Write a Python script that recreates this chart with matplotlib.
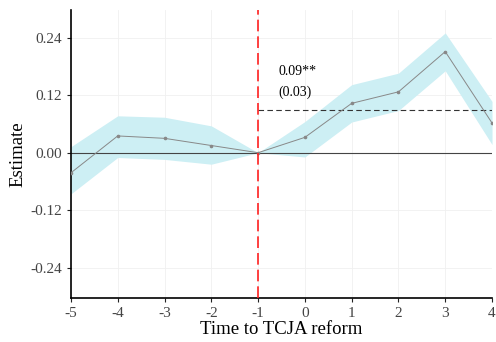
import numpy as np
import matplotlib.pyplot as plt

plt.rcParams['font.family'] = ['Liberation Serif', 'DejaVu Serif']

# event time relative to TCJA reform
periodos = [-5, -4, -3, -2, -1, 0, 1, 2, 3, 4]
estimacion = [-0.042, 0.035, 0.030, 0.015, 0.0, 0.032, 0.103, 0.127, 0.211, 0.062]
ic_inf = [-0.086, -0.010, -0.014, -0.024, 0.0, -0.009, 0.064, 0.088, 0.171, 0.017]
ic_sup = [0.0125, 0.077, 0.074, 0.056, 0.0, 0.065, 0.142, 0.166, 0.250, 0.107]

efecto_medio = 0.09
texto_efecto = ['0.09**', '(0.03)']
yticks = [-0.24, -0.12, 0.00, 0.12, 0.24]

fig = plt.figure(figsize=(4.96, 3.42), dpi=100)
ax = fig.add_axes([0.143, 0.129, 0.849, 0.842])

ax.grid(True, color='#f0f0f0', linewidth=0.6)
ax.set_axisbelow(True)

ax.fill_between(periodos, ic_inf, ic_sup, color='#cdeff4', linewidth=0, zorder=1)
ax.axhline(0, color='#444444', linewidth=0.8, zorder=2)
ax.plot(periodos, estimacion, color='#888888', linewidth=0.7, marker='o',
        markersize=1.6, zorder=3)
ax.axvline(-1, color='#ff2020', linestyle=(0, (7, 3)), linewidth=1.2, zorder=4)
ax.plot([-1, 4], [efecto_medio, efecto_medio], color='#333333',
        linestyle=(0, (5, 3)), linewidth=0.8, zorder=2)

ax.text(-0.57, 0.169, texto_efecto[0], fontsize=10, va='center', ha='left')
ax.text(-0.57, 0.127, texto_efecto[1], fontsize=10, va='center', ha='left')

ax.set_xlim(-5, 4)
ax.set_ylim(-0.303, 0.298)
ax.set_xticks(periodos)
ax.set_xticklabels([str(p) for p in periodos])
ax.set_yticks(yticks)
ax.set_yticklabels([f'{v:.2f}' for v in yticks])

for s in ['top', 'right']:
    ax.spines[s].set_visible(False)
for s in ['left', 'bottom']:
    ax.spines[s].set_linewidth(1.2)
ax.tick_params(labelsize=11, colors='#444444', length=3, width=0.8)
ax.tick_params(axis='both', color='#222222')

ax.set_xlabel('Time to TCJA reform', fontsize=13.5, labelpad=1)
ax.set_ylabel('Estimate', fontsize=13.5, labelpad=3)

plt.savefig('out.png', dpi=100)
